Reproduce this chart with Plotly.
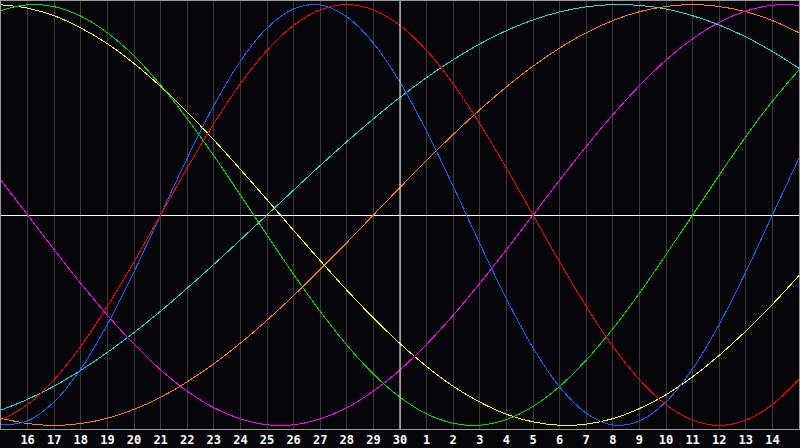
import plotly.graph_objects as go

# day offsets across the chart (0 = 15th of previous month, 30 = 15th of next month)
day_index = list(range(31))
tick_positions = list(range(1, 30))
tick_labels = ["16", "17", "18", "19", "20", "21", "22", "23", "24", "25", "26", "27", "28", "29", "30",
               "1", "2", "3", "4", "5", "6", "7", "8", "9", "10", "11", "12", "13", "14"]

physical = [-0.998, -0.979, -0.888, -0.731, -0.520, -0.270, 0.000, 0.270, 0.520, 0.731, 0.888,
            0.979, 0.998, 0.942, 0.817, 0.631, 0.398, 0.136, -0.136, -0.398, -0.631, -0.817,
            -0.942, -0.998, -0.979, -0.888, -0.731, -0.520, -0.270, 0.000, 0.270]
emotional = [-0.975, -0.901, -0.782, -0.624, -0.434, -0.223, 0.000, 0.223, 0.434, 0.624, 0.782,
             0.901, 0.975, 1.000, 0.975, 0.901, 0.782, 0.624, 0.434, 0.223, 0.000, -0.223,
             -0.434, -0.624, -0.782, -0.901, -0.975, -1.000, -0.975, -0.901, -0.782]
intellectual = [0.972, 0.999, 0.990, 0.945, 0.866, 0.756, 0.618, 0.458, 0.282, 0.095, -0.095,
                -0.282, -0.458, -0.618, -0.756, -0.866, -0.945, -0.990, -0.999, -0.972, -0.910,
                -0.815, -0.690, -0.541, -0.372, -0.189, 0.000, 0.189, 0.372, 0.541, 0.690]
intuitive = [0.165, 0.000, -0.165, -0.325, -0.476, -0.614, -0.736, -0.837, -0.916, -0.969, -0.997,
             -0.997, -0.969, -0.916, -0.837, -0.736, -0.614, -0.476, -0.325, -0.165, 0.000,
             0.165, 0.325, 0.476, 0.614, 0.736, 0.837, 0.916, 0.969, 0.997, 0.997]
aesthetic = [0.999, 0.983, 0.947, 0.889, 0.814, 0.720, 0.611, 0.489, 0.357, 0.217, 0.073,
             -0.073, -0.217, -0.357, -0.489, -0.611, -0.720, -0.814, -0.889, -0.947, -0.983,
             -0.999, -0.994, -0.968, -0.920, -0.854, -0.769, -0.667, -0.552, -0.425, -0.288]
awareness = [-0.966, -0.991, -1.000, -0.991, -0.966, -0.924, -0.866, -0.793, -0.707, -0.609, -0.500,
             -0.383, -0.259, -0.131, 0.000, 0.131, 0.259, 0.383, 0.500, 0.609, 0.707,
             0.793, 0.866, 0.924, 0.966, 0.991, 1.000, 0.991, 0.966, 0.924, 0.866]
spiritual = [-0.927, -0.876, -0.813, -0.738, -0.653, -0.559, -0.457, -0.348, -0.235, -0.118, 0.000,
             0.118, 0.235, 0.348, 0.457, 0.559, 0.653, 0.738, 0.813, 0.876, 0.927,
             0.965, 0.989, 1.000, 0.996, 0.979, 0.947, 0.903, 0.846, 0.777, 0.697]

series = [
    ("Spiritual", spiritual, "#22dddd"),
    ("Awareness", awareness, "#ff8000"),
    ("Aesthetic", aesthetic, "#ffff00"),
    ("Intuitive", intuitive, "#ff00ff"),
    ("Intellectual", intellectual, "#00e000"),
    ("Physical", physical, "#1464ff"),
    ("Emotional", emotional, "#ff0000"),
]

fig = go.Figure()
for name, vals, color in series:
    fig.add_trace(go.Scatter(
        x=day_index, y=vals, mode="lines", name=name,
        line=dict(color=color, width=1, shape="spline", smoothing=1.0),
        hoverinfo="skip",
    ))

today_index = 15
fig.add_shape(type="line", xref="x", yref="paper", x0=today_index, x1=today_index,
              y0=0, y1=1, line=dict(color="#ffffff", width=1), layer="above")

bg = "#060509"
fig.update_layout(
    width=800, height=448,
    margin=dict(l=1, r=1, t=1, b=19),
    paper_bgcolor=bg, plot_bgcolor=bg,
    showlegend=False,
    xaxis=dict(
        range=[0, 30], tickmode="array", tickvals=tick_positions, ticktext=tick_labels,
        showgrid=True, gridcolor="#3a3a3a", gridwidth=1, zeroline=False,
        showline=True, mirror=True, linecolor="#9a9a9a", linewidth=1,
        ticks="", tickfont=dict(family="DejaVu Sans Mono", size=12, color="#ffffff", weight="bold"),
        fixedrange=True,
    ),
    yaxis=dict(
        range=[-1.017, 1.017], showgrid=False, showticklabels=False, ticks="",
        zeroline=True, zerolinecolor="#ffffff", zerolinewidth=1,
        showline=True, mirror=True, linecolor="#9a9a9a", linewidth=1,
        fixedrange=True,
    ),
)

post = (
    "document.body.style.margin='0';"
    "document.body.style.overflow='hidden';"
    "document.body.style.background='#060509';"
    "var s=document.createElement('style');"
    "s.textContent='.scatterlayer .js-line{shape-rendering:crispEdges}';"
    "document.head.appendChild(s);"
)

fig.write_html("out.html", config={"displayModeBar": False}, post_script=post)
